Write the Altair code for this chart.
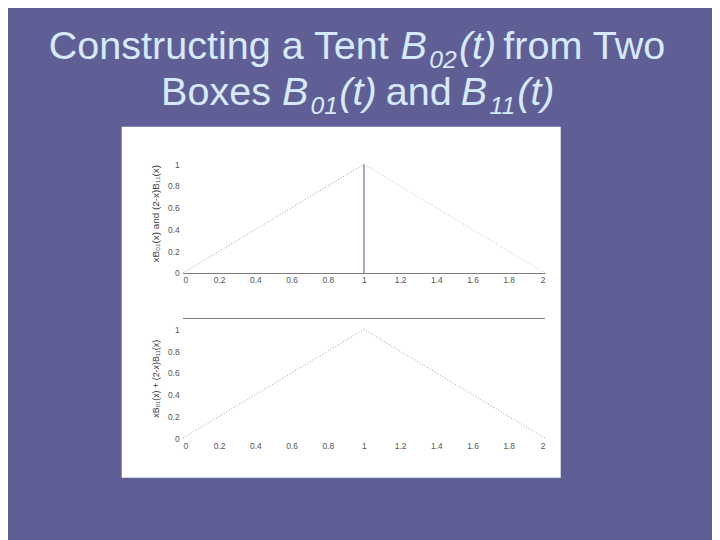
import altair as alt
import pandas as pd

# ---- data ----
x_ticks = [0, 0.2, 0.4, 0.6, 0.8, 1.0, 1.2, 1.4, 1.6, 1.8, 2.0]
y_ticks = [0, 0.2, 0.4, 0.6, 0.8, 1.0]

rise_x = [0, 1]
rise_y = [0, 1]
edge_x = [1, 1]
edge_y = [0, 1]
fall_x = [1, 2]
fall_y = [1, 0]

tent_x = [0, 1, 2]
tent_y = [0, 1, 0]

top_ytitle = "xB₀₁(x) and (2-x)B₁₁(x)"
bot_ytitle = "xB₀₁(x) + (2-x)B₁₁(x)"

FONT = "Liberation Sans"
BG = "#5f5f96"
TITLE_COLOR = "#d6eaff"

W, H = 366, 121
one = pd.DataFrame({"k": [0]})

xs = alt.Scale(domain=[0, 2], nice=False)
ys = alt.Scale(domain=[0, 1.1], nice=False)


def x_axis(domain=True):
    return alt.Axis(values=x_ticks, format="~g", title=None, grid=False, ticks=False,
                    domain=domain, domainColor="#7a7a7a", labelFontSize=8.5,
                    labelColor="#555555", labelFont=FONT, labelPadding=3,
                    labelOverlap=False, zindex=2)


def y_axis(title, tsize):
    return alt.Axis(values=y_ticks, format="~g", title=title, grid=False, ticks=False,
                    domain=False, labelFontSize=8.5, labelColor="#555555", labelFont=FONT,
                    labelPadding=4, labelOverlap=False, titleFont=FONT, titleFontSize=tsize,
                    titleFontWeight="normal", titleColor="#444444", titlePadding=7,
                    zindex=2)


def line(xv, yv, color, dash, xaxis, yaxis):
    df = pd.DataFrame({"x": xv, "y": yv})
    mk = alt.Chart(df).mark_line(color=color, strokeWidth=1, strokeDash=dash) if dash else \
        alt.Chart(df).mark_line(color=color, strokeWidth=1.2)
    return mk.encode(
        x=alt.X("x:Q", scale=xs, axis=xaxis),
        y=alt.Y("y:Q", scale=ys, axis=yaxis),
        order=alt.Order("y:Q") if xv[0] == xv[-1] else alt.Order("x:Q"),
    )


def txt(s, x, y, size=40, italic=False, align="left"):
    return alt.Chart(one).mark_text(
        text=s, align=align, baseline="alphabetic", font=FONT, fontSize=size,
        fontStyle="italic" if italic else "normal", color=TITLE_COLOR
    ).encode(x=alt.value(x), y=alt.value(y))


purple = alt.Chart(one).mark_rect(color=BG).encode(
    x=alt.value(-177), x2=alt.value(535), y=alt.value(-144), y2=alt.value(388))
white = alt.Chart(one).mark_rect(color="#ffffff").encode(
    x=alt.value(-62), x2=alt.value(382), y=alt.value(-27), y2=alt.value(328))

title_layers = [
    txt("Constructing a Tent", 208, -95, align="right"),
    txt("B", 220, -95, italic=True),
    txt("02", 249, -86, size=25, italic=True),
    txt("(t)", 279, -95, italic=True),
    txt("from Two", 324, -95),
    txt("Boxes", 89, -49, align="right"),
    txt("B", 100, -49, italic=True),
    txt("01", 129, -40, size=25, italic=True),
    txt("(t)", 158, -49, italic=True),
    txt("and", 205, -49),
    txt("B", 281, -49, italic=True),
    txt("11", 310, -40, size=25, italic=True),
    txt("(t)", 338, -49, italic=True),
]

top_y = y_axis(top_ytitle, 10)
top = alt.layer(
    purple, white, *title_layers,
    line(rise_x, rise_y, "#9a9a9a", [1, 2], x_axis(True), top_y),
    line(edge_x, edge_y, "#6e6ea8", None, x_axis(True), top_y),
    line(fall_x, fall_y, "#a8cca0", [1, 2], x_axis(True), top_y),
).properties(width=W, height=H)

bot_y = y_axis(bot_ytitle, 9)
top_rule = alt.Chart(one).mark_rule(color="#7a7a7a", strokeWidth=1).encode(
    x=alt.datum(0, scale=xs, axis=x_axis(False)), x2=alt.datum(2),
    y=alt.datum(1.1, scale=ys, axis=bot_y))

bottom = alt.layer(
    line(tent_x, tent_y, "#9a9a9a", [1, 2], x_axis(False), bot_y),
    top_rule,
).properties(width=W, height=H)

chart = alt.vconcat(top, bottom, spacing=46, bounds="flush").properties(
    padding=0
).configure(background=BG).configure_view(strokeWidth=0)

chart.save("out.html", embed_options={"renderer": "svg", "actions": False})
